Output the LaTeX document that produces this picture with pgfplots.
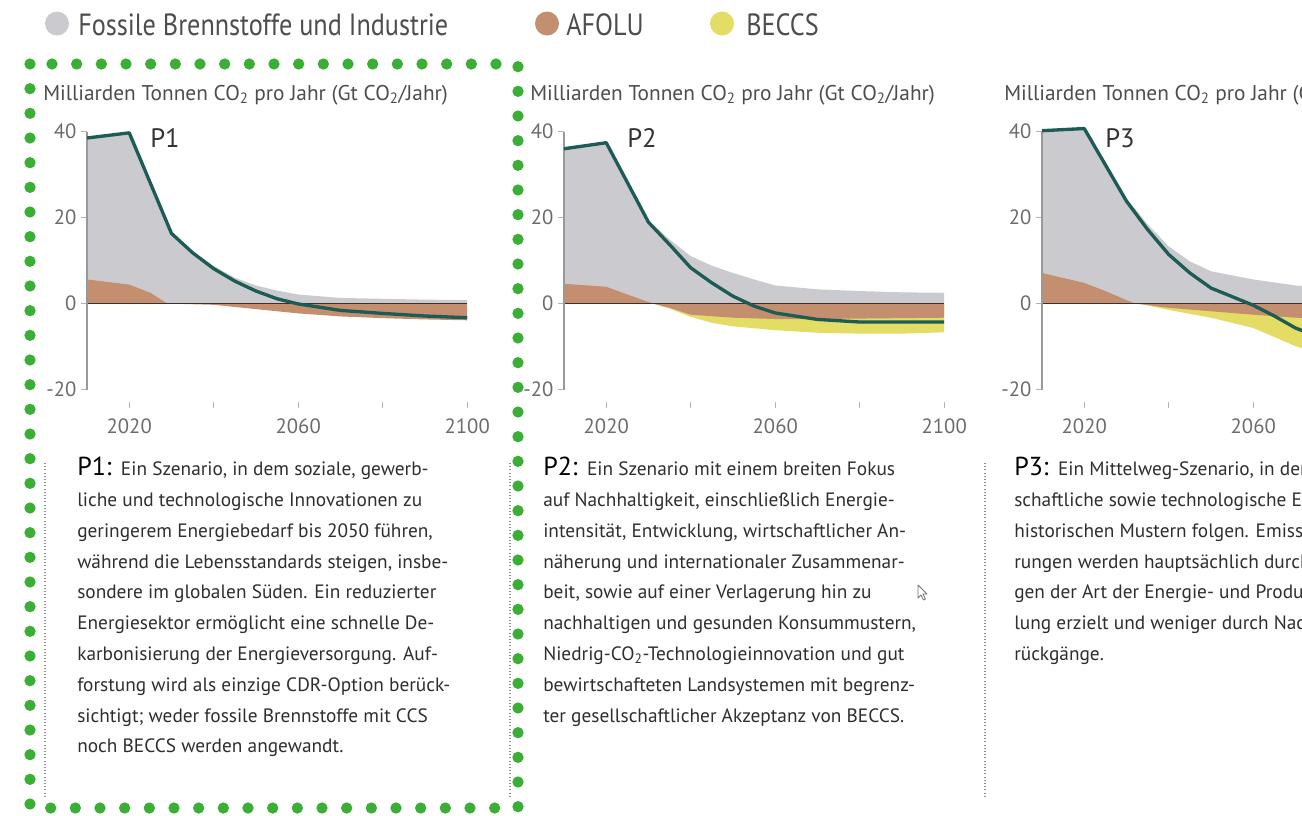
\documentclass[border=0pt]{standalone}
\usepackage{fontspec}
\setmainfont{PT Sans}
\newfontfamily\legfont[FakeStretch=0.855]{PT Sans}
\usepackage{pgfplots}
\pgfplotsset{compat=1.18}
\definecolor{fossil}{HTML}{CBCBCF}
\definecolor{afolu}{HTML}{C48F6E}
\definecolor{beccs}{HTML}{E3DC65}
\definecolor{netline}{HTML}{1D5B55}
\definecolor{zeroline}{HTML}{3E3029}
\definecolor{labgrey}{HTML}{6B6B6B}
\definecolor{titlegrey}{HTML}{4D4D4D}
\definecolor{bodytext}{HTML}{2E2E2E}
\definecolor{dotgreen}{HTML}{3BAE36}
\newcommand{\cotwo}{CO\textsubscript{2}}

% 1 px of the reference = 0.75pt
\pgfplotsset{
  panel/.style={
    scale only axis,
    width=285.19pt, height=209.6pt,
    xmin=2010, xmax=2100, ymin=-23, ymax=42,
    anchor=south west,
    clip=false,
    axis line style={draw=none},
    xtick={2020,2040,2060,2080,2100},
    xticklabels={2020,,2060,,2100},
    ytick={-20,0,20,40},
    xtick pos=left, ytick pos=left,
    tick align=outside,
    major tick length=4.5pt,
    tick style={draw=black!30, line width=0.8pt},
    tick label style={font=\fontsize{15.5}{15.5}\selectfont, text=labgrey},
    xticklabel style={yshift=-4.5pt},
    /pgf/number format/assume math mode=true,
  },
  area/.style={draw=none, fill=#1},
  net/.style={netline, line width=2.5pt, line join=round},
}

\begin{document}
\begin{tikzpicture}[x=0.75pt, y=0.75pt]
\useasboundingbox (0,0) rectangle (1302,-815);
\clip (0,0) rectangle (1302,-815);

% P1
\begin{axis}[panel, at={(65.25pt,-301.8pt)}]
\addplot[area=fossil] coordinates {(2010,0) (2010,38.5) (2020,39.7) (2030,16.6) (2035,12.2) (2040,8.7) (2045,6.0) (2050,4.2) (2055,3.0) (2060,2.1) (2070,1.3) (2080,1.1) (2090,0.9) (2100,0.8) (2100,0)} -- cycle;
\addplot[area=afolu] coordinates {(2010,0) (2010,5.6) (2020,4.4) (2025,2.5) (2029,0) (2040,-0.3) (2050,-1.3) (2060,-2.3) (2070,-3.0) (2080,-3.4) (2090,-3.7) (2100,-3.9) (2100,0)} -- cycle;
\draw[zeroline, line width=1.1pt] (axis cs:2010,0) -- (axis cs:2100,0);
\draw[black!40, line width=0.9pt] (axis cs:2010,-20) -- (axis cs:2010,40);
\addplot[net] coordinates {(2010,38.5) (2020,39.7) (2030,16.3) (2035,11.8) (2040,8.1) (2045,5.2) (2050,2.9) (2055,1.1) (2060,-0.1) (2070,-1.6) (2080,-2.3) (2090,-2.9) (2100,-3.3)};
\end{axis}

% P2
\begin{axis}[panel, at={(423pt,-301.8pt)}]
\addplot[area=fossil] coordinates {(2010,0) (2010,36.0) (2020,37.4) (2030,19.3) (2035,14.9) (2040,11.0) (2045,8.8) (2050,7.1) (2055,5.6) (2060,4.2) (2070,3.3) (2080,2.9) (2090,2.6) (2100,2.5) (2100,0)} -- cycle;
\addplot[area=beccs] coordinates {(2031,0) (2035,-1.2) (2040,-3.1) (2045,-4.5) (2050,-5.3) (2060,-6.2) (2070,-6.8) (2080,-7.0) (2090,-7.0) (2100,-6.7) (2100,0)} -- cycle;
\addplot[area=afolu] coordinates {(2010,0) (2010,4.6) (2020,3.9) (2025,2.1) (2031,0) (2035,-1.0) (2040,-2.6) (2050,-3.3) (2060,-3.6) (2070,-3.6) (2080,-3.5) (2090,-3.4) (2100,-3.3) (2100,0)} -- cycle;
\draw[zeroline, line width=1.1pt] (axis cs:2010,0) -- (axis cs:2100,0);
\draw[black!40, line width=0.9pt] (axis cs:2010,-20) -- (axis cs:2010,40);
\addplot[net] coordinates {(2010,36.0) (2020,37.4) (2030,18.9) (2035,13.7) (2040,8.3) (2045,4.8) (2050,1.7) (2055,-0.6) (2060,-2.2) (2070,-3.7) (2080,-4.3) (2090,-4.3) (2100,-4.3)};
\end{axis}

% P3
\begin{axis}[panel, at={(781.5pt,-301.8pt)}]
\addplot[area=fossil] coordinates {(2010,0) (2010,40.2) (2020,40.7) (2030,24.5) (2035,18.4) (2040,13.3) (2045,9.8) (2050,7.5) (2060,5.6) (2070,4.2) (2080,3.5) (2090,3.2) (2100,3.0) (2100,0)} -- cycle;
\addplot[area=beccs] coordinates {(2033,0) (2040,-1.5) (2050,-3.3) (2060,-5.7) (2070,-9.9) (2080,-13.0) (2090,-14.5) (2100,-15.5) (2100,0)} -- cycle;
\addplot[area=afolu] coordinates {(2010,0) (2010,7.1) (2020,4.8) (2025,2.9) (2030,0.8) (2032,0) (2040,-1.0) (2050,-1.8) (2060,-2.6) (2070,-3.3) (2080,-3.5) (2090,-3.6) (2100,-3.7) (2100,0)} -- cycle;
\draw[zeroline, line width=1.1pt] (axis cs:2010,0) -- (axis cs:2100,0);
\draw[black!40, line width=0.9pt] (axis cs:2010,-20) -- (axis cs:2010,40);
\addplot[net] coordinates {(2010,40.2) (2020,40.7) (2030,23.8) (2035,17.2) (2040,11.4) (2045,7.1) (2050,3.6) (2055,1.6) (2060,-0.4) (2065,-2.9) (2070,-5.7) (2080,-9.5) (2090,-11.5) (2100,-12.5)};
\end{axis}

% legend
\fill[fossil] (57,-23.5) circle (12);
\fill[afolu]  (547,-23.5) circle (12);
\fill[beccs]  (722,-23.5) circle (12);
\tikzset{leg/.style={anchor=base west, inner sep=0, text=titlegrey, font=\legfont\fontsize{23}{23}\selectfont}}
\node[leg] at (78,-35) {Fossile Brennstoffe und Industrie};
\node[leg] at (566,-35) {AFOLU};
\node[leg] at (746,-35) {BECCS};

% axis titles and scenario names
\foreach \x in {43,530,1004}
  \node[anchor=base west, inner sep=0, text=titlegrey, font=\fontsize{16}{16}\selectfont]
    at (\x,-100) {Milliarden Tonnen \cotwo{} pro Jahr (Gt \cotwo/Jahr)};
\tikzset{pname/.style={anchor=base west, inner sep=0, font=\fontsize{20}{20}\selectfont, text=black!80}}
\node[pname] at (150,-147) {P1};
\node[pname] at (627,-147) {P2};
\node[pname] at (1105,-147) {P3};

% separators and the highlight frame
\foreach \x in {45,510,985}
  \draw[black!45, line width=0.8pt, dash pattern=on 0.8pt off 1.6pt] (\x,-463) -- (\x,-797);
\draw[dotgreen, line width=8.5pt, line cap=round, dash pattern=on 0pt off 18.5pt] (30,-64) rectangle (518,-808);

% mouse pointer left in the screenshot
\draw[black!55, fill=white, line width=0.6pt, line join=round]
  (918,-585) -- (918,-598) -- (921,-595) -- (923.5,-600) -- (925.5,-599) -- (923,-594) -- (927,-594) -- cycle;

% descriptions
\tikzset{desc/.style={anchor=north west, inner sep=0, align=left, text=bodytext,
  font=\fontsize{14.5}{23.1}\selectfont}}
\newcommand{\plabel}[1]{{\color{black}\fontsize{19.5}{19.5}\selectfont #1:}\hspace{7pt}}
\node[desc] at (77,-457) {\plabel{P1}Ein Szenario, in dem soziale, gewerb-\\
liche und technologische Innovationen zu\\
geringerem Energiebedarf bis 2050 führen,\\
während die Lebensstandards steigen, insbe-\\
sondere im globalen Süden. Ein reduzierter\\
Energiesektor ermöglicht eine schnelle De-\\
karbonisierung der Energieversorgung. Auf-\\
forstung wird als einzige CDR-Option berück-\\
sichtigt; weder fossile Brennstoffe mit CCS\\
noch BECCS werden angewandt.};
\node[desc] at (543,-457) {\plabel{P2}Ein Szenario mit einem breiten Fokus\\
auf Nachhaltigkeit, einschließlich Energie-\\
intensität, Entwicklung, wirtschaftlicher An-\\
näherung und internationaler Zusammenar-\\
beit, sowie auf einer Verlagerung hin zu\\
nachhaltigen und gesunden Konsummustern,\\
Niedrig-\cotwo-Technologieinnovation und gut\\
bewirtschafteten Landsystemen mit begrenz-\\
ter gesellschaftlicher Akzeptanz von BECCS.};
\node[desc] at (1014,-457) {\plabel{P3}Ein Mittelweg-Szenario, in dem gesell-\\
schaftliche sowie technologische Entwicklungen\\
historischen Mustern folgen. Emissionsminde-\\
rungen werden hauptsächlich durch Änderun-\\
gen der Art der Energie- und Produktherstel-\\
lung erzielt und weniger durch Nachfrage-\\
rückgänge.};
\end{tikzpicture}
\end{document}
